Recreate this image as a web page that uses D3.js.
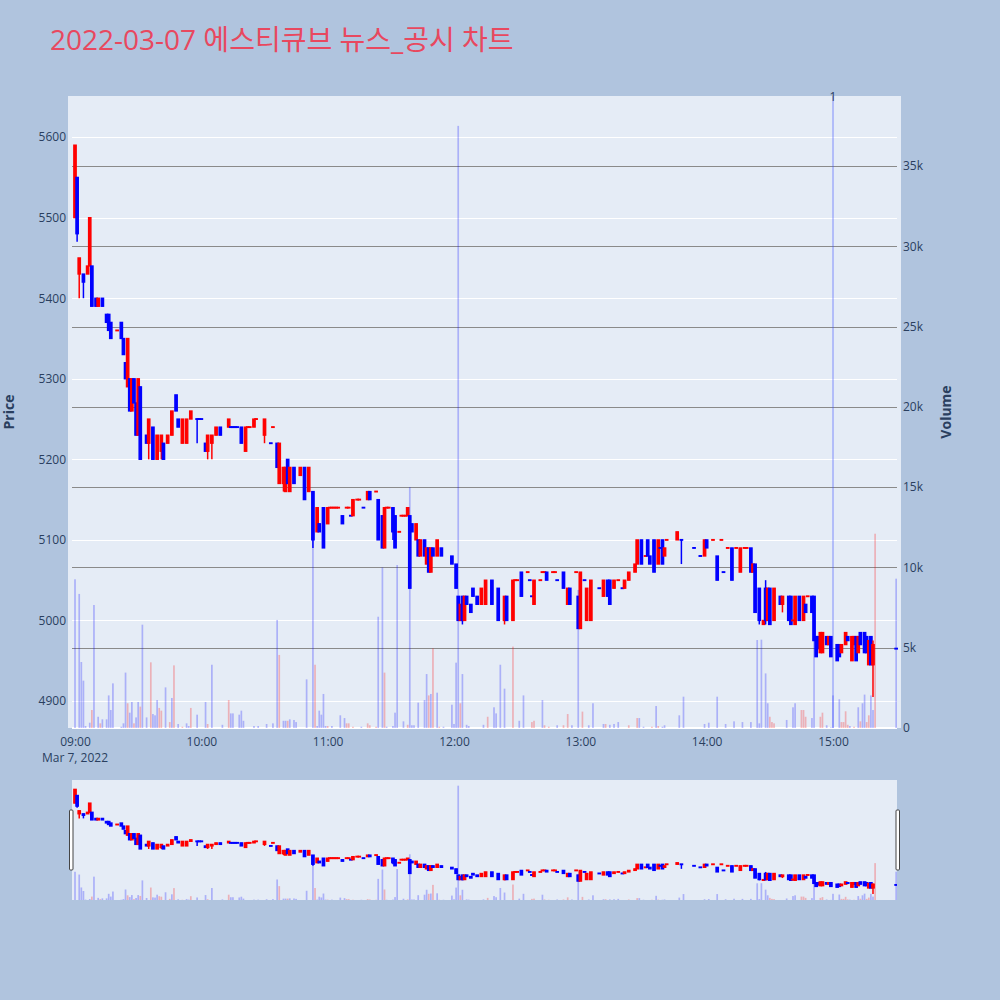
<!DOCTYPE html>
<html>
<head>
<meta charset="utf-8">
<script src="https://cdn.jsdelivr.net/npm/d3@7"></script>
<style>
  body { margin: 0; background: #b0c4de; }
  svg { display: block; }
  text { font-family: "Open Sans", "Noto Sans CJK KR", sans-serif; }
</style>
</head>
<body>
<svg id="chart" width="1000" height="1000"></svg>
<script>
// ---- minute candles, 2022-03-07 ----
const candleTime = [
  "09:00","09:01","09:02","09:04","09:06","09:07","09:08","09:10","09:11","09:13","09:15","09:16","09:17","09:20","09:22","09:23","09:24","09:25","09:26","09:27","09:28","09:29","09:30","09:31","09:34","09:35","09:37","09:39","09:41","09:42","09:44","09:46","09:48","09:49","09:51","09:53","09:55","09:58","09:59",
  "10:00","10:02","10:03","10:05","10:07","10:09","10:13","10:14","10:15","10:16","10:17","10:19","10:21","10:22","10:23","10:25","10:26","10:30","10:33","10:34","10:36","10:37","10:39","10:40","10:41","10:42","10:44","10:47","10:49","10:51","10:53","10:55","10:56","10:58",
  "11:00","11:01","11:02","11:03","11:04","11:05","11:07","11:09","11:10","11:11","11:12","11:14","11:15","11:17","11:19","11:20","11:23","11:24","11:26","11:27","11:28","11:29","11:31","11:32","11:34","11:35","11:36","11:37","11:38","11:39","11:40","11:42","11:43","11:44","11:46","11:47","11:48","11:49","11:50","11:52","11:54","11:59",
  "12:01","12:02","12:03","12:04","12:05","12:06","12:08","12:09","12:11","12:13","12:15","12:18","12:21","12:24","12:25","12:28","12:29","12:30","12:32","12:35","12:36","12:37","12:38","12:41","12:42","12:43","12:44","12:47","12:48","12:49","12:52","12:54","12:55","12:58","12:59",
  "13:00","13:02","13:03","13:05","13:09","13:11","13:13","13:14","13:16","13:18","13:20","13:21","13:23","13:26","13:27","13:29","13:31","13:32","13:33","13:35","13:37","13:38","13:39","13:40","13:41","13:46","13:48","13:54","13:57","13:59",
  "14:00","14:03","14:05","14:07","14:08","14:10","14:12","14:14","14:16","14:18","14:19","14:21","14:22","14:23","14:25","14:27","14:28","14:29","14:30","14:32","14:35","14:36","14:39","14:40","14:41","14:42","14:44","14:46","14:47","14:48","14:50","14:51","14:52","14:53","14:54","14:55","14:57","14:58","14:59",
  "15:02","15:03","15:04","15:06","15:07","15:09","15:10","15:11","15:12","15:13","15:15","15:16","15:17","15:18","15:19","15:30"
];
const openPrice = [
  5500,5550,5430,5430,5430,5440,5440,5400,5390,5400,5380,5380,5370,5360,5370,5350,5320,5290,5300,5260,5300,5270,5230,5290,5230,5220,5240,5200,5210,5220,5220,5230,5280,5250,5220,5220,5250,5250,5250,
  5250,5220,5210,5220,5230,5240,5240,5240,5240,5240,5240,5240,5210,5240,5240,5240,5250,5230,5220,5240,5220,5170,5170,5160,5200,5160,5190,5180,5190,5160,5160,5110,5120,5140,
  5120,5140,5140,5140,5140,5140,5130,5140,5140,5130,5130,5150,5150,5140,5150,5160,5160,5150,5130,5090,5140,5140,5140,5130,5110,5130,5130,5130,5130,5130,5120,5100,5100,5080,5100,5070,5090,5060,5090,5080,5090,5080,
  5070,5030,5000,5030,5000,5030,5020,5040,5030,5020,5020,5050,5040,5000,5030,5000,5050,5050,5060,5060,5050,5030,5020,5050,5060,5060,5060,5060,5060,5050,5060,5020,5040,5060,5030,
  4990,5050,5000,5000,5040,5030,5050,5050,5040,5050,5040,5040,5050,5060,5070,5100,5080,5100,5080,5100,5070,5090,5100,5080,5100,5100,5100,5090,5080,5080,
  5100,5100,5080,5100,5060,5090,5090,5090,5060,5090,5090,5090,5060,5070,5040,4995,5040,5000,5040,5000,5030,5020,5030,5030,5000,4995,5030,5000,5020,5030,5030,5030,4980,4980,4960,4960,4980,4970,4980,
  4970,4970,4960,4970,4980,4950,4970,4980,4960,4985,4985,4980,4945,4980,4945,4965
];
const highPrice = [
  5590,5550,5450,5430,5440,5500,5440,5400,5400,5400,5380,5380,5370,5360,5370,5350,5320,5350,5300,5300,5300,5270,5300,5290,5230,5250,5240,5230,5230,5220,5230,5260,5280,5250,5250,5250,5260,5250,5250,
  5250,5220,5230,5230,5240,5240,5250,5240,5240,5240,5240,5240,5240,5240,5240,5250,5250,5250,5220,5240,5220,5220,5190,5190,5200,5190,5190,5190,5190,5190,5160,5140,5120,5140,
  5140,5140,5140,5140,5140,5140,5130,5140,5140,5130,5150,5150,5150,5140,5160,5160,5160,5150,5130,5140,5140,5140,5140,5130,5110,5130,5130,5130,5140,5130,5120,5120,5100,5100,5100,5090,5090,5090,5090,5100,5090,5080,
  5070,5030,5020,5030,5030,5030,5020,5040,5030,5040,5050,5050,5040,5030,5030,5050,5050,5050,5060,5060,5050,5030,5050,5050,5060,5060,5060,5060,5060,5050,5060,5040,5040,5060,5030,
  5060,5050,5040,5050,5040,5050,5050,5050,5050,5050,5040,5050,5060,5070,5100,5100,5080,5100,5080,5100,5100,5090,5100,5090,5100,5110,5100,5090,5080,5100,
  5100,5100,5080,5100,5060,5090,5090,5090,5090,5090,5090,5090,5070,5070,5040,5000,5050,5040,5040,5040,5030,5030,5030,5030,5000,5030,5030,5030,5020,5030,5030,5030,4980,4980,4985,4985,4980,4980,4980,
  4970,4970,4970,4985,4980,4980,4980,4980,4980,4985,4985,4980,4975,4980,4975,4965
];
const lowPrice = [
  5500,5470,5400,5400,5430,5440,5390,5390,5390,5390,5370,5360,5350,5360,5350,5330,5300,5290,5260,5260,5270,5230,5230,5200,5220,5200,5200,5200,5200,5200,5220,5230,5260,5240,5220,5220,5250,5220,5250,
  5250,5210,5200,5200,5230,5230,5240,5240,5240,5240,5240,5220,5210,5240,5240,5240,5250,5220,5220,5240,5190,5170,5160,5160,5170,5160,5170,5180,5150,5160,5090,5110,5110,5090,
  5120,5140,5140,5140,5140,5140,5120,5140,5140,5130,5130,5150,5150,5140,5150,5150,5160,5100,5090,5090,5140,5140,5100,5090,5110,5130,5130,5130,5130,5040,5110,5100,5080,5080,5080,5070,5060,5060,5080,5080,5080,5070,
  5040,5000,5000,4995,5000,5020,5010,5030,5020,5020,5020,5020,5000,4995,5000,5000,5050,5050,5030,5060,5050,5030,5020,5050,5060,5060,5050,5060,5060,5050,5040,5020,5020,5060,4990,
  4990,5050,5000,5000,5040,5030,5030,5020,5040,5050,5040,5040,5050,5060,5070,5070,5080,5080,5070,5060,5070,5090,5070,5080,5100,5100,5070,5090,5080,5080,
  5090,5100,5050,5100,5060,5090,5050,5090,5060,5090,5090,5060,5060,5010,4995,4995,4995,5000,4995,5000,5020,5010,5000,4995,5000,4995,5000,5000,5010,5030,5010,4975,4955,4965,4960,4960,4970,4970,4955,
  4950,4955,4960,4970,4975,4950,4970,4950,4960,4970,4960,4960,4945,4945,4905,4965
];
const closePrice = [
  5590,5480,5450,5420,5440,5500,5390,5390,5400,5390,5370,5360,5350,5360,5350,5330,5300,5350,5260,5300,5270,5230,5300,5200,5220,5250,5200,5230,5230,5200,5230,5260,5260,5240,5250,5250,5260,5250,5250,
  5250,5210,5230,5230,5240,5230,5250,5240,5240,5240,5240,5220,5240,5240,5240,5250,5250,5250,5220,5240,5190,5220,5190,5190,5170,5190,5170,5190,5150,5190,5100,5140,5110,5090,
  5140,5140,5140,5140,5140,5140,5120,5140,5140,5130,5150,5150,5150,5140,5160,5150,5160,5100,5090,5140,5140,5140,5110,5090,5110,5130,5130,5130,5140,5040,5110,5120,5080,5100,5080,5090,5060,5090,5080,5100,5080,5070,
  5040,5000,5020,5000,5030,5020,5010,5030,5020,5040,5050,5020,5000,5030,5000,5050,5050,5050,5030,5060,5050,5030,5050,5050,5060,5060,5050,5060,5060,5050,5040,5040,5020,5060,4990,
  5060,5050,5040,5050,5040,5050,5030,5020,5050,5050,5040,5050,5060,5070,5100,5070,5080,5080,5070,5060,5100,5090,5070,5090,5100,5110,5100,5090,5080,5100,
  5090,5100,5050,5100,5060,5090,5050,5090,5090,5090,5090,5060,5070,5010,5000,5000,5000,5040,4995,5040,5020,5030,5000,4995,5000,5030,5000,5030,5010,5030,5010,4975,4955,4965,4985,4985,4970,4980,4955,
  4950,4955,4970,4985,4975,4980,4980,4950,4980,4970,4960,4960,4975,4945,4970,4965
];

// ---- traded volume per minute (rise = closed above the previous close) ----
const volTime = [
  "09:00","09:02","09:03","09:04","09:05","09:07","09:08","09:09","09:11","09:12","09:13","09:15","09:16","09:17","09:18","09:22","09:23","09:24","09:25","09:26","09:27","09:28","09:29","09:30","09:31","09:32","09:34","09:36","09:37","09:38","09:39","09:40","09:41","09:43","09:45","09:46","09:47","09:49","09:51","09:53","09:54","09:55","09:58",
  "10:02","10:03","10:05","10:10","10:13","10:14","10:15","10:18","10:19","10:20","10:25","10:27","10:31","10:34","10:36","10:37","10:39","10:40","10:41","10:42","10:44","10:45","10:50","10:53","10:54","10:55","10:56","10:57","10:58","10:59",
  "11:00","11:02","11:06","11:08","11:09","11:10","11:12","11:16","11:19","11:20","11:23","11:24","11:26","11:27","11:28","11:31","11:32","11:33","11:36","11:38","11:39","11:40","11:41","11:43","11:46","11:47","11:48","11:49","11:50","11:52","11:53","11:55","11:59",
  "12:00","12:01","12:02","12:03","12:04","12:06","12:07","12:14","12:16","12:19","12:20","12:22","12:24","12:28","12:31","12:33","12:37","12:38","12:42","12:43","12:45","12:49","12:52","12:54","12:56","12:59",
  "13:01","13:04","13:06","13:11","13:12","13:14","13:16","13:18","13:23","13:27","13:28","13:30","13:34","13:36","13:37","13:39","13:40","13:47","13:49","13:59",
  "14:01","14:05","14:09","14:13","14:17","14:21","14:24","14:25","14:26","14:28","14:29","14:30","14:31","14:32","14:38","14:41","14:42","14:45","14:46","14:47","14:50","14:51","14:54","14:55","14:57","14:59",
  "15:00","15:03","15:04","15:05","15:06","15:07","15:08","15:10","15:12","15:13","15:14","15:15","15:16","15:17","15:18","15:19","15:20","15:30"
];
const volume = [
  9260,8350,4110,2950,125,330,1120,7660,700,290,540,540,2030,1120,2780,80,290,3450,1540,955,1620,290,660,1620,1330,6435,660,4090,870,790,1740,1250,1080,2530,370,1870,3900,250,80,290,125,1250,830,
  1620,250,3940,200,1740,910,910,830,1080,450,125,125,250,290,6730,4550,450,450,450,540,500,370,3030,11700,3940,125,1080,830,2120,125,
  125,125,790,620,290,290,80,80,290,170,80,6930,10000,3450,80,125,955,10150,415,200,15000,170,170,1580,1740,3360,2030,2120,4960,2200,80,80,1450,
  250,4070,37500,1540,3360,200,125,200,700,1290,910,3940,2450,5070,450,2030,370,450,1740,170,80,170,170,870,170,8600,
  1020,170,1540,250,250,200,250,370,170,620,620,80,80,1370,125,80,170,790,1950,250,
  330,1950,250,415,370,370,5480,290,5500,3400,1540,700,370,290,500,1290,1540,1120,1120,700,620,5700,700,955,170,40,
  2030,1790,370,370,1040,200,125,80,1290,415,1540,2080,370,790,2030,1120,12100,9300
];
const volRise = [
  0,0,0,0,0,0,1,0,0,1,0,0,0,0,0,0,0,0,1,0,0,1,0,0,1,0,0,1,0,0,0,1,1,0,1,0,1,0,1,0,0,1,0,
  0,1,0,0,1,0,0,0,0,0,0,0,0,0,0,1,0,0,1,0,0,0,0,0,1,0,0,0,0,0,
  1,0,0,0,1,1,1,0,1,1,1,0,0,1,0,0,0,0,0,1,0,0,0,0,0,0,1,0,1,0,1,0,0,
  0,0,0,1,0,0,0,0,1,0,0,0,0,1,0,0,1,1,0,1,1,0,1,1,0,0,
  1,0,0,0,1,0,0,0,1,1,0,0,1,0,1,0,0,0,0,0,
  0,0,0,0,0,0,0,0,0,0,0,1,1,1,0,0,0,1,1,1,0,0,1,1,0,0,
  0,0,1,1,1,1,0,1,0,1,0,0,1,1,0,0,1,0
];

const priceTicks = [4900, 5000, 5100, 5200, 5300, 5400, 5500, 5600];
const volumeTicks = [0, 5000, 10000, 15000, 20000, 25000, 30000, 35000];
const hourTicks = ["09:00","10:00","11:00","12:00","13:00","14:00","15:00"];
const newsTime = ["15:00"];
const newsLabel = ["1"];
const titleText = "2022-03-07 에스티큐브 뉴스_공시 차트";

// ---- setup ----
const INC = "#ff0000", DEC = "#0000ff", INK = "#2a3f5f";
const parse = d3.timeParse("%Y-%m-%d %H:%M");
const at = s => parse("2022-03-07 " + s);
const svg = d3.select("#chart");

// candle records; a flat candle takes its colour from the move against the previous close
let prevClose = null, prevUp = true;
const candles = candleTime.map((t, i) => {
  const o = openPrice[i], c = closePrice[i];
  let up;
  if (c > o) up = true;
  else if (c < o) up = false;
  else up = prevClose == null ? prevUp : (c > prevClose ? true : c < prevClose ? false : prevUp);
  prevClose = c; prevUp = up;
  return { t: at(t), o, h: highPrice[i], l: lowPrice[i], c, up };
});
const vols = volTime.map((t, i) => ({ t: at(t), v: volume[i], up: volRise[i] === 1 }));

const left = 72, right = 897;
const x = d3.scaleTime()
  .domain([new Date(+at("09:00") - 1.43 * 60000), new Date(+at("15:30") + 0.4 * 60000)])
  .range([left, right]);

const main = { top: 96, bottom: 728 };
const yP = d3.scaleLinear().domain([4866.5, 5651]).range([main.bottom, main.top]);
const yV = d3.scaleLinear().domain([0, 39360]).range([main.bottom, main.top]);

const slider = { top: 780, bottom: 900 };
const ySP = d3.scaleLinear().domain([4866.5, 5651]).range([slider.bottom, slider.top]);
const ySV = d3.scaleLinear().domain([0, 39360]).range([slider.bottom, slider.top]);

// ---- title ----
svg.append("text").attr("x", 50).attr("y", 50)
  .attr("font-size", 28).attr("fill", "#e8485f").text(titleText);

// ---- main plot background ----
svg.append("rect").attr("x", 68).attr("y", main.top).attr("width", 901 - 68)
  .attr("height", main.bottom - main.top).attr("fill", "#e5ecf6");

// grid: price (white), volume (gray)
const grid = svg.append("g");
grid.selectAll(".pg").data(priceTicks).join("line")
  .attr("x1", left).attr("x2", right)
  .attr("y1", d => Math.round(yP(d)) + 0.5).attr("y2", d => Math.round(yP(d)) + 0.5)
  .attr("stroke", "#fff").attr("stroke-width", 1);
grid.selectAll(".vg").data(volumeTicks.filter(v => v > 0)).join("line")
  .attr("x1", left).attr("x2", right)
  .attr("y1", d => Math.round(yV(d)) + 0.5).attr("y2", d => Math.round(yV(d)) + 0.5)
  .attr("stroke", "#8a8a8a").attr("stroke-width", 1);
grid.append("line").attr("x1", left).attr("x2", right)
  .attr("y1", yV(0)).attr("y2", yV(0)).attr("stroke", "#fff").attr("stroke-width", 2);

// ---- marks ----
function drawCandles(g, yS) {
  const c = g.selectAll("g.c").data(candles).join("g").attr("class", "c");
  c.append("line")
    .attr("x1", d => x(d.t)).attr("x2", d => x(d.t))
    .attr("y1", d => yS(d.h)).attr("y2", d => yS(d.l))
    .attr("stroke", d => d.up ? INC : DEC).attr("stroke-width", 1.5);
  // bodies keep a hairline height so flat candles still show as short dashes
  c.append("rect")
    .attr("x", d => x(d.t) - 1.2).attr("width", 2.4)
    .attr("y", d => yS(Math.max(d.o, d.c)) - (d.o === d.c ? 0.3 : 0))
    .attr("height", d => Math.max(0.6, Math.abs(yS(d.o) - yS(d.c))))
    .attr("fill", d => d.up ? INC : DEC)
    .attr("stroke", d => d.up ? INC : DEC).attr("stroke-width", 1.3);
}
function drawVolume(g, yS) {
  g.selectAll("rect.v").data(vols).join("rect").attr("class", "v")
    .attr("x", d => x(d.t) - 0.85).attr("width", 1.7)
    .attr("y", d => yS(d.v)).attr("height", d => yS(0) - yS(d.v))
    .attr("fill", d => d.up ? INC : DEC).attr("opacity", 0.25);
}

svg.append("clipPath").attr("id", "mainClip").append("rect")
  .attr("x", 68).attr("y", main.top).attr("width", 833).attr("height", main.bottom - main.top);
const plotG = svg.append("g").attr("clip-path", "url(#mainClip)");
drawCandles(plotG.append("g"), yP);
drawVolume(plotG.append("g"), yV);

// news marker
const news = svg.append("g");
news.selectAll("line").data(newsTime).join("line")
  .attr("x1", d => x(at(d))).attr("x2", d => x(at(d)))
  .attr("y1", main.top).attr("y2", main.bottom)
  .attr("stroke", "rgba(60,80,255,0.3)").attr("stroke-width", 2);
news.selectAll("text").data(newsLabel).join("text")
  .attr("x", (d, i) => x(at(newsTime[i]))).attr("y", main.top + 5)
  .attr("text-anchor", "middle").attr("font-size", 12).attr("fill", INK).text(d => d);

// ---- axes ----
const axL = svg.append("g").attr("transform", "translate(68,0)")
  .call(d3.axisLeft(yP).tickValues(priceTicks).tickSize(0).tickPadding(2).tickFormat(d3.format("d")));
const axR = svg.append("g").attr("transform", "translate(901,0)")
  .call(d3.axisRight(yV).tickValues(volumeTicks).tickSize(0).tickPadding(2)
    .tickFormat(d => d === 0 ? "0" : (d / 1000) + "k"));
const axB = svg.append("g").attr("transform", `translate(0,${main.bottom})`)
  .call(d3.axisBottom(x).tickValues(hourTicks.map(at)).tickSize(0).tickPadding(9)
    .tickFormat(d3.timeFormat("%H:%M")));
[axL, axR, axB].forEach(a => {
  a.select(".domain").remove();
  a.selectAll("text").attr("font-size", 12).attr("fill", INK)
    .attr("font-family", "'Open Sans', sans-serif");
});
svg.append("text").attr("x", x(at("09:00"))).attr("y", 762)
  .attr("text-anchor", "middle").attr("font-size", 12).attr("fill", INK).text("Mar 7, 2022");

svg.append("text").attr("transform", "translate(14,412) rotate(-90)")
  .attr("text-anchor", "middle").attr("font-size", 14).attr("font-weight", "bold")
  .attr("fill", INK).text("Price");
svg.append("text").attr("transform", "translate(951,412) rotate(-90)")
  .attr("text-anchor", "middle").attr("font-size", 14).attr("font-weight", "bold")
  .attr("fill", INK).text("Volume");

// ---- range slider ----
svg.append("rect").attr("x", left).attr("y", slider.top).attr("width", right - left)
  .attr("height", slider.bottom - slider.top).attr("fill", "#e5ecf6");
svg.append("clipPath").attr("id", "sliderClip").append("rect")
  .attr("x", left).attr("y", slider.top).attr("width", right - left).attr("height", slider.bottom - slider.top);
const sg = svg.append("g").attr("clip-path", "url(#sliderClip)");
drawCandles(sg.append("g"), ySP);
drawVolume(sg.append("g"), ySV);
[left - 2.5, right - 1].forEach(hx => {
  svg.append("rect").attr("x", hx).attr("y", 810).attr("width", 3.5).attr("height", 60)
    .attr("rx", 1).attr("fill", "#fff").attr("stroke", "#444").attr("stroke-width", 1);
});
</script>
</body>
</html>
